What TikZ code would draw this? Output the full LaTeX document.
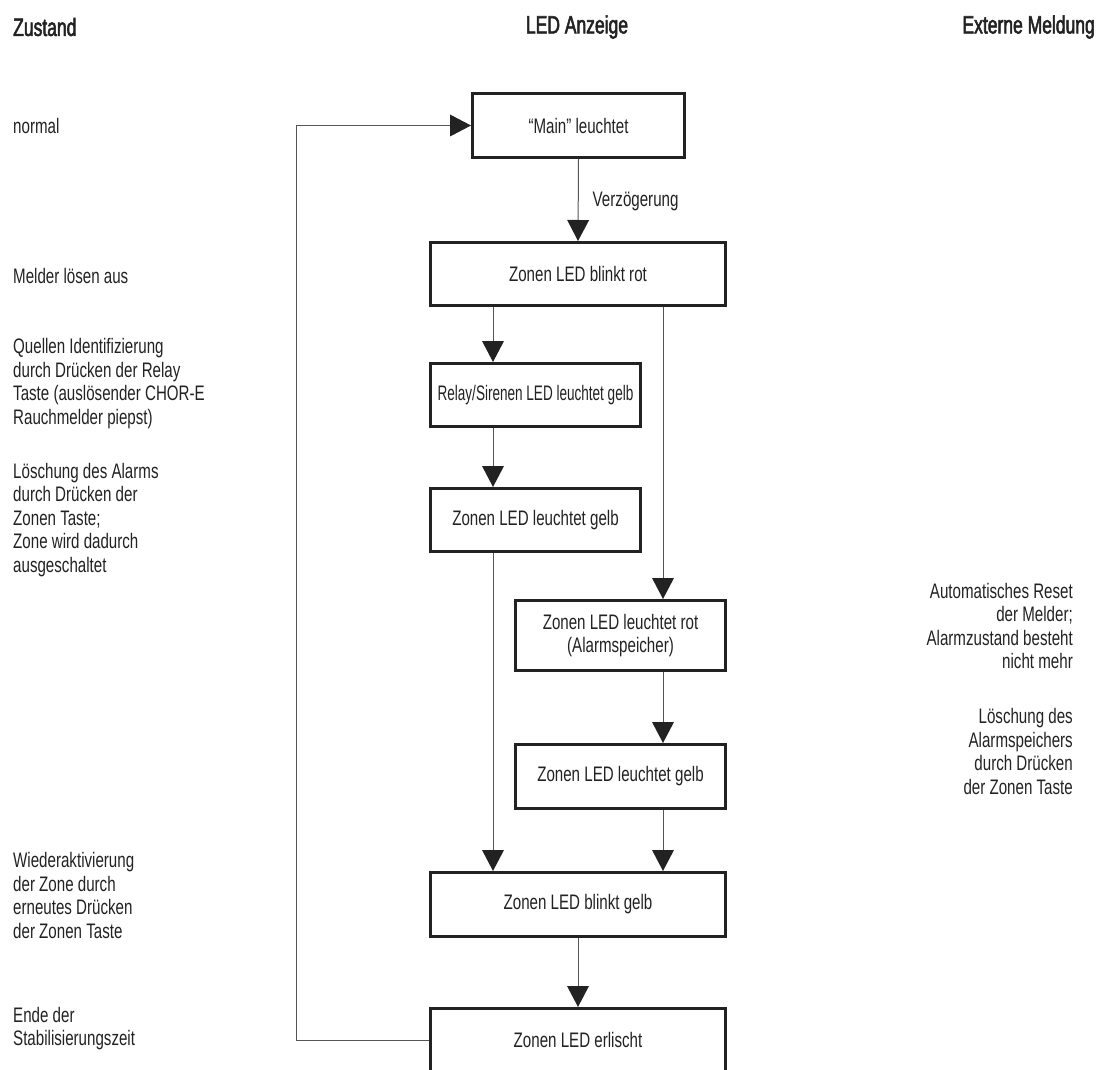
\documentclass[tikz,border=0pt]{standalone}
\usepackage{fontspec}
\setmainfont[FakeStretch=0.72]{Liberation Sans}
\newfontfamily\narrowfont[FakeStretch=0.645]{Liberation Sans}
\newfontfamily\hdfont[FakeStretch=0.70,FakeBold=2.2]{Liberation Sans}
\usetikzlibrary{arrows.meta}
\definecolor{ink}{HTML}{222222}
\definecolor{wire}{HTML}{555555}
\begin{document}
\begin{tikzpicture}[x=1pt,y=-1pt,
  font=\fontsize{21}{23.5}\selectfont,
  box/.style={draw=ink, line width=3pt, inner sep=0pt, text=ink, align=center},
  lab/.style={text=ink, inner sep=0pt},
  hd/.style={text=ink, inner sep=0pt, font=\hdfont\fontsize{25}{27}\selectfont},
  wire/.style={draw=wire, line width=1pt},
  arr/.style={wire, -{Triangle[width=22pt,length=21pt,color=ink,fill=ink,line width=0pt]}}
]
\useasboundingbox (0,0) rectangle (1106,1070);
\clip (0,0) rectangle (1106,1070);
% headers
\node[hd, anchor=west] (hz) at (13,27) {Zustand};
\node[hd] (hl) at (577,27) {LED Anzeige};
\node[hd, anchor=east] (he) at (1095,27) {Externe Meldung};
% boxes
\node[box, minimum width=212pt, minimum height=64pt] (b1) at (578.5,125.5) {“Main” leuchtet};
\node[box, minimum width=295pt, minimum height=63pt] (b2) at (578,274) {Zonen LED blinkt rot};
\node[box, minimum width=210pt, minimum height=63pt, font=\narrowfont\fontsize{21}{23.5}\selectfont] (b3) at (535.5,395) {Relay/Sirenen LED leuchtet gelb};
\node[box, minimum width=210pt, minimum height=63pt] (b4) at (535.5,520) {Zonen LED leuchtet gelb};
\node[box, minimum width=210pt, minimum height=70pt] (b5) at (620.5,635.5) {Zonen LED leuchtet rot\\(Alarmspeicher)};
\node[box, minimum width=210pt, minimum height=64pt] (b6) at (620.5,776.5) {Zonen LED leuchtet gelb};
\node[box, minimum width=295pt, minimum height=64pt] (b7) at (578,904.5) {Zonen LED blinkt gelb};
\node[box, minimum width=295pt, minimum height=63pt] (b8) at (578,1040) {Zonen LED erlischt};
% guide columns
\coordinate (cl) at (493,0);
\coordinate (cr) at (663,0);
\coordinate (cf) at (296,0);
% connectors
\draw[arr] (b1.south) -- node[lab, anchor=west, pos=0.52, xshift=14pt] (verz) {Verzögerung} (b2.north);
\draw[arr] (b2.south -| cl) -- (b3.north -| cl);
\draw[arr] (b2.south -| cr) -- (b5.north -| cr);
\draw[arr] (b3.south -| cl) -- (b4.north -| cl);
\draw[arr] (b4.south -| cl) -- (b7.north -| cl);
\draw[arr] (b5.south -| cr) -- (b6.north -| cr);
\draw[arr] (b6.south -| cr) -- (b7.north -| cr);
\draw[arr] (b7.south) -- (b8.north);
\draw[arr] (b8.west) -- (b8.west -| cf) -- (b1.west -| cf) -- (b1.west);
% left texts
\node[lab, anchor=west, align=left] (t1) at (13,126) {normal};
\node[lab, anchor=west, align=left] (t2) at (13,276) {Melder lösen aus};
\node[lab, anchor=west, align=left] (t3) at (13,383.5) {Quellen Identifizierung\\durch Drücken der Relay\\Taste (auslösender CHOR-E\\Rauchmelder piepst)};
\node[lab, anchor=west, align=left] (t4) at (13,520) {Löschung des Alarms\\durch Drücken der\\Zonen Taste;\\Zone wird dadurch\\ausgeschaltet};
\node[lab, anchor=west, align=left] (t5) at (13,895.5) {Wiederaktivierung\\der Zone durch\\erneutes Drücken\\der Zonen Taste};
\node[lab, anchor=west, align=left] (t6) at (13,1028.5) {Ende der\\Stabilisierungszeit};
% right texts
\node[lab, anchor=east, align=right] (r1) at (1073,626) {Automatisches Reset\\der Melder;\\Alarmzustand besteht\\nicht mehr};
\node[lab, anchor=east, align=right] (r2) at (1073,751.5) {Löschung des\\Alarmspeichers\\durch Drücken\\der Zonen Taste};
\end{tikzpicture}
\end{document}
